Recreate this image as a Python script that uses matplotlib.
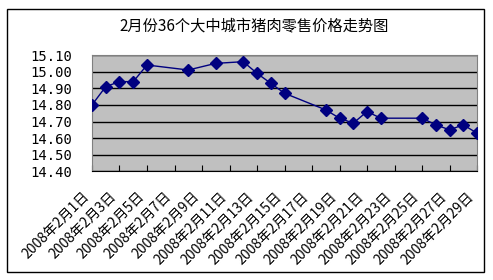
import matplotlib.pyplot as plt
from matplotlib.patches import Rectangle
import numpy as np

plt.rcParams['font.family'] = ['Noto Sans CJK SC', 'DejaVu Sans']

# day of February 2008 and price (yuan)
days = [1, 2, 3, 4, 5, 8, 10, 12, 13, 14, 15, 18, 19, 20, 21, 22, 25, 26, 27, 28, 29]
prices = [14.80, 14.91, 14.94, 14.94, 15.04, 15.01, 15.05, 15.06, 14.99, 14.93, 14.87,
          14.77, 14.72, 14.69, 14.76, 14.72, 14.72, 14.68, 14.65, 14.68, 14.63]
tick_days = list(range(1, 30, 2))
tick_labels = ["2008年2月%d日" % d for d in tick_days]
title = "2月份36个大中城市猪肉零售价格走势图"

fig = plt.figure(figsize=(4.93, 2.80), dpi=100)
fig.patches.append(Rectangle((0.0148, 0.0296), 0.967, 0.937, transform=fig.transFigure,
                             fill=False, edgecolor='black', linewidth=1))
ax = fig.add_axes([0.1866, 0.388, 0.781, 0.4154])
ax.set_facecolor('#c0c0c0')

ax.plot(days, prices, color='#000080', linewidth=1, marker='D', markersize=6.5,
        markerfacecolor='#000080', markeredgecolor='#000080', zorder=3)

ax.set_xlim(1, 29)
ax.set_ylim(14.40, 15.10)
yt = np.round(np.arange(14.40, 15.101, 0.10), 2)
ax.set_yticks(yt)
ax.set_yticklabels(["%.2f" % v for v in yt], family='DejaVu Sans Mono', fontsize=10)
ax.tick_params(axis='y', length=0, pad=14)
ax.yaxis.grid(True, color='black', linewidth=1)
ax.set_axisbelow(True)

ax.set_xticks(tick_days)
ax.set_xticklabels(tick_labels, rotation=45, ha='right', fontsize=10)
ax.tick_params(axis='x', direction='in', length=4, pad=13, color='black')

for s in ax.spines.values():
    s.set_color('#808080')
ax.spines['bottom'].set_color('black')

fig.text(0.515, 0.905, title, ha='center', va='center', fontsize=11)

fig.savefig('out.png', dpi=100)
